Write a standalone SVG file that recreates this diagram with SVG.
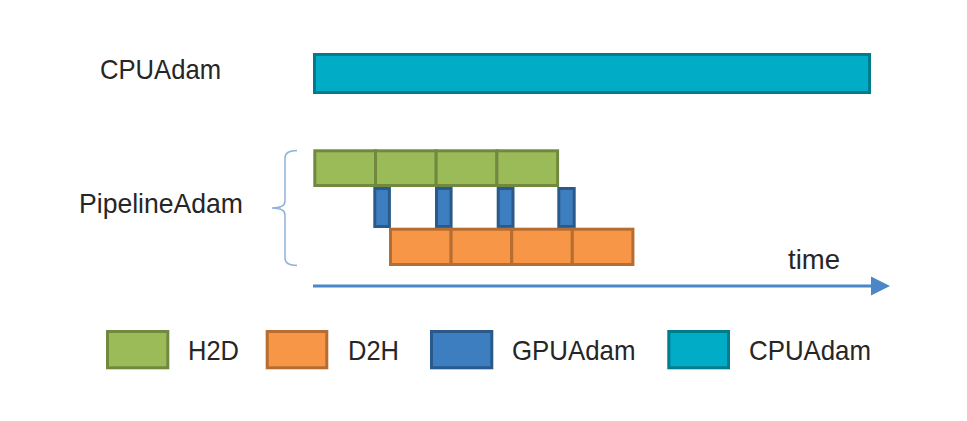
<svg xmlns="http://www.w3.org/2000/svg" width="967" height="421" viewBox="0 0 967 421">
<style>
.t{font-family:"Liberation Sans","Noto Sans",Arial,sans-serif;font-size:28px;fill:#262626}
.h2d{fill:#9bbb59;stroke:#71893f;stroke-width:3}
.d2h{fill:#f79646;stroke:#b66d31;stroke-width:3}
.gpu{fill:#3c7ebf;stroke:#2a5a8a;stroke-width:3}
.cpu{fill:#00acc6;stroke:#007b8c;stroke-width:3}
</style>
<rect width="967" height="421" fill="#ffffff"/>
<g id="labels">
<text class="t" x="100" y="79" textLength="121" lengthAdjust="spacingAndGlyphs">CPUAdam</text>
<text class="t" x="79" y="213" textLength="164" lengthAdjust="spacingAndGlyphs">PipelineAdam</text>
</g>
<g id="cpu-bar">
<rect class="cpu" x="314.5" y="54.5" width="555" height="38"/>
</g>
<g id="brace">
<path d="M297,150.5 Q285,150.5 285,158 L285,201 Q285,208 272,208 Q285,208 285,215 L285,258 Q285,265.5 297,265.5" fill="none" stroke="#8fb1da" stroke-width="1.5"/>
</g>
<g id="gpu-blocks">
<rect class="gpu" x="374.8" y="188.5" width="14.6" height="38"/>
<rect class="gpu" x="436.5" y="188.5" width="14.6" height="38"/>
<rect class="gpu" x="498.2" y="188.5" width="14.8" height="38"/>
<rect class="gpu" x="558.8" y="188.5" width="15.4" height="38"/>
</g>
<g id="h2d-blocks">
<rect class="h2d" x="314.8" y="150.8" width="60.7" height="34.7"/>
<rect class="h2d" x="375.5" y="150.8" width="60.7" height="34.7"/>
<rect class="h2d" x="436.2" y="150.8" width="60.7" height="34.7"/>
<rect class="h2d" x="496.9" y="150.8" width="60.7" height="34.7"/>
</g>
<g id="d2h-blocks">
<rect class="d2h" x="390.5" y="229.2" width="60.6" height="35.3"/>
<rect class="d2h" x="451.1" y="229.2" width="60.6" height="35.3"/>
<rect class="d2h" x="511.7" y="229.2" width="60.6" height="35.3"/>
<rect class="d2h" x="572.3" y="229.2" width="60.6" height="35.3"/>
</g>
<g id="connectors">
<line x1="313" y1="286" x2="873" y2="286" stroke="#4a86c8" stroke-width="3"/>
<polygon points="871,276.5 890,286 871,295.5" fill="#4a86c8"/>
</g>
<g id="time-label">
<text class="t" x="788" y="269" textLength="52" lengthAdjust="spacingAndGlyphs">time</text>
</g>
<g id="legend">
<rect class="h2d" x="107.5" y="331.5" width="60.3" height="36.3"/>
<text class="t" x="188" y="360" textLength="51" lengthAdjust="spacingAndGlyphs">H2D</text>
<rect class="d2h" x="267.2" y="331.5" width="59.6" height="36.3"/>
<text class="t" x="348" y="360" textLength="51" lengthAdjust="spacingAndGlyphs">D2H</text>
<rect class="gpu" x="431.5" y="331.5" width="60.3" height="36.3"/>
<text class="t" x="512" y="360" textLength="123.5" lengthAdjust="spacingAndGlyphs">GPUAdam</text>
<rect class="cpu" x="668.8" y="331.5" width="59.7" height="36.3"/>
<text class="t" x="749" y="360" textLength="122" lengthAdjust="spacingAndGlyphs">CPUAdam</text>
</g>
</svg>
